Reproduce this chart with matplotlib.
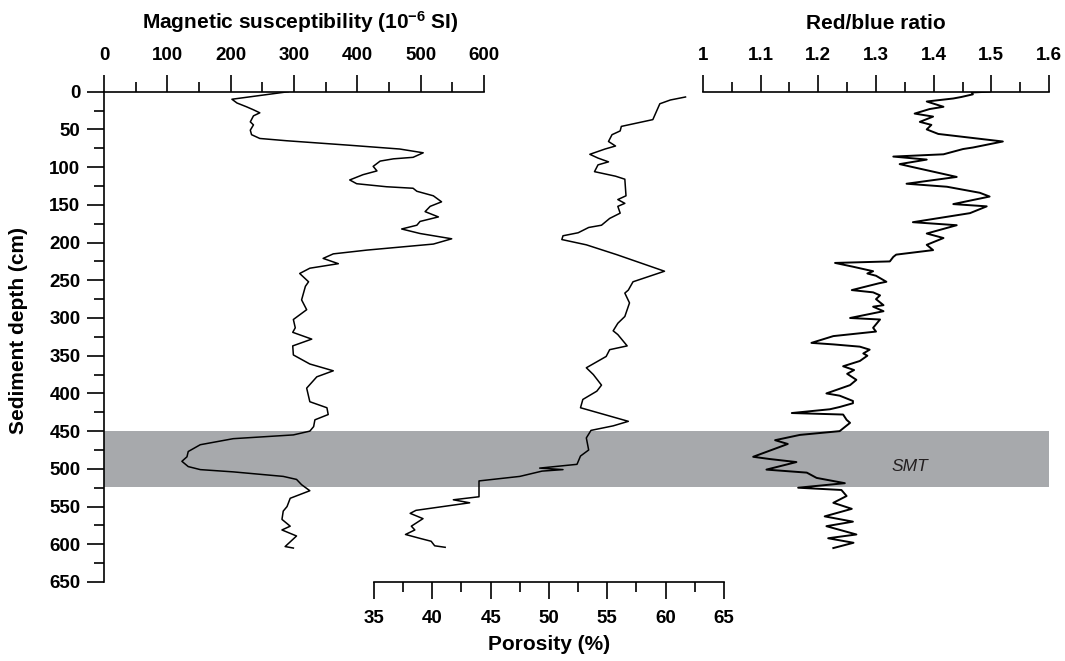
import numpy as np
import matplotlib.pyplot as plt
from matplotlib.ticker import MultipleLocator

plt.rcParams['font.family'] = ['Liberation Sans', 'DejaVu Sans']
plt.rcParams['mathtext.fontset'] = 'custom'
plt.rcParams['mathtext.rm'] = 'Liberation Sans:bold'
plt.rcParams['mathtext.default'] = 'rm'

# magnetic susceptibility (10^-6 SI) vs depth (cm)
mag_depth = [0, 10, 15, 20, 24, 28, 32, 40, 44, 51,
             57, 62, 65, 71, 76, 81, 87, 89, 92, 99,
             105, 110, 117, 122, 126, 128, 132, 138, 146, 152,
             159, 166, 172, 177, 182, 188, 195, 202, 210, 215,
             221, 228, 234, 241, 252, 258, 276, 289, 302, 313,
             319, 328, 337, 349, 361, 370, 378, 393, 411, 419,
             428, 435, 444, 450, 455, 460, 468, 477, 484, 490,
             497, 501, 504, 510, 514, 521, 529, 539, 550, 556,
             567, 576, 581, 589, 603, 605]
mag_vals = [291, 202, 210, 225, 236, 246, 236, 231, 236, 231,
            233, 246, 288, 388, 467, 504, 488, 457, 436, 425,
            431, 409, 388, 399, 446, 488, 494, 520, 533, 515,
            507, 528, 499, 494, 470, 499, 549, 520, 415, 362,
            346, 370, 325, 309, 323, 318, 312, 320, 299, 302,
            298, 328, 298, 299, 325, 362, 336, 320, 325, 352,
            354, 333, 331, 325, 299, 204, 152, 133, 131, 123,
            133, 152, 204, 283, 304, 312, 325, 294, 289, 283,
            281, 294, 281, 304, 286, 299]

# porosity (%) vs depth (cm)
por_depth = [7, 11, 16, 37, 46, 52, 57, 66, 72, 76,
             83, 88, 93, 97, 106, 112, 116, 138, 143, 148,
             152, 161, 168, 177, 180, 187, 191, 196, 203, 216,
             238, 252, 263, 267, 280, 298, 307, 317, 322, 337,
             342, 351, 366, 375, 389, 397, 408, 419, 437, 443,
             449, 459, 475, 483, 494, 499, 501, 503, 510, 516,
             537, 541, 545, 555, 559, 566, 576, 581, 587, 592,
             596, 602, 604]
por_vals = [61.7, 60.4, 59.5, 58.9, 56.2, 56.1, 55.4, 55.1, 55.7, 54.8,
            53.5, 54.2, 55.1, 54.2, 53.9, 55.7, 56.5, 56.6, 55.9, 56.5,
            55.9, 56.1, 55.2, 54.5, 53.4, 52.5, 51.2, 51.1, 53.2, 55.8,
            59.9, 57.2, 56.8, 56.5, 56.9, 56.5, 55.9, 55.5, 55.9, 56.7,
            55.2, 54.9, 53.2, 53.8, 54.5, 54.1, 52.9, 52.7, 56.8, 55.5,
            53.6, 53.2, 53.4, 52.7, 52.4, 49.2, 51.2, 49.4, 47.5, 44.0,
            44.0, 41.8, 43.2, 38.6, 38.1, 39.2, 38.2, 38.5, 37.7, 38.9,
            39.9, 40.2, 41.1]

# red/blue ratio vs depth (cm)
rb_depth = [0, 1, 3.5, 7, 9, 13, 20, 23, 29, 33,
            40, 44, 50, 56, 63, 66, 74, 76, 83, 86,
            90, 96, 100, 107, 113, 122, 126, 134, 139, 149,
            152, 161, 173, 177, 188, 194, 203, 210, 216, 219,
            225, 227, 232, 238, 241, 244, 252, 254, 263, 266,
            270, 275, 283, 285, 291, 300, 302, 313, 318, 324,
            333, 335, 338, 342, 347, 350, 357, 364, 369, 374,
            382, 389, 400, 403, 410, 413, 418, 421, 426, 428,
            435, 439, 450, 455, 462, 467, 471, 484, 487, 491,
            501, 505, 512, 519, 525, 528, 536, 545, 553, 563,
            570, 576, 587, 592, 598, 605]
rb_vals = [1.497, 1.466, 1.468, 1.448, 1.434, 1.388, 1.417, 1.393, 1.367, 1.399,
           1.376, 1.396, 1.388, 1.408, 1.486, 1.520, 1.468, 1.451, 1.417, 1.330,
           1.388, 1.341, 1.364, 1.405, 1.440, 1.353, 1.423, 1.480, 1.497, 1.434,
           1.492, 1.463, 1.364, 1.440, 1.388, 1.417, 1.388, 1.399, 1.335, 1.330,
           1.324, 1.229, 1.260, 1.295, 1.285, 1.300, 1.318, 1.305, 1.258, 1.295,
           1.307, 1.300, 1.313, 1.295, 1.313, 1.255, 1.307, 1.295, 1.300, 1.226,
           1.188, 1.226, 1.272, 1.289, 1.278, 1.285, 1.272, 1.243, 1.262, 1.250,
           1.266, 1.255, 1.214, 1.237, 1.260, 1.260, 1.237, 1.220, 1.154, 1.243,
           1.249, 1.255, 1.237, 1.168, 1.125, 1.147, 1.133, 1.087, 1.116, 1.162,
           1.110, 1.180, 1.197, 1.246, 1.165, 1.240, 1.249, 1.226, 1.258, 1.211,
           1.260, 1.214, 1.266, 1.217, 1.261, 1.226]

depth_ticks = list(range(0, 651, 50))
mag_ticks = [0, 100, 200, 300, 400, 500, 600]
por_ticks = [35, 40, 45, 50, 55, 60, 65]
rb_ticks = [1.0, 1.1, 1.2, 1.3, 1.4, 1.5, 1.6]
rb_labels = ['1', '1.1', '1.2', '1.3', '1.4', '1.5', '1.6']
smt_top, smt_bottom = 450, 524

W, H = 1065, 661
fig = plt.figure(figsize=(W / 100, H / 100), dpi=100)

Y0, Y1 = 91.7, 582


def make_ax(x0, x1):
    ax = fig.add_axes([x0 / W, 1 - Y1 / H, (x1 - x0) / W, (Y1 - Y0) / H])
    ax.set_facecolor('none')
    ax.set_ylim(650, 0)
    for s in ax.spines.values():
        s.set_visible(False)
        s.set_linewidth(1.2)
    ax.tick_params(which='both', width=1.2, labelsize=13.5, pad=8)
    ax.tick_params(which='major', length=12)
    ax.tick_params(which='minor', length=7)
    return ax


bold = dict(fontsize=15, fontweight='bold')

# background band
bg = make_ax(104, 1049)
bg.set_xlim(0, 1)
bg.axhspan(smt_top, smt_bottom, color='#a7a9ac', lw=0)
bg.set_xticks([])
bg.set_yticks([])

# magnetic susceptibility
ax1 = make_ax(104, 484)
ax1.spines['left'].set_visible(True)
ax1.spines['top'].set_visible(True)
ax1.set_xlim(0, 600)
ax1.xaxis.tick_top()
ax1.set_xticks(mag_ticks)
ax1.xaxis.set_minor_locator(MultipleLocator(50))
ax1.set_yticks(depth_ticks)
ax1.yaxis.set_minor_locator(MultipleLocator(25))
ax1.tick_params(axis='y', which='both', pad=5)
for lab in ax1.get_xticklabels() + ax1.get_yticklabels():
    lab.set_fontweight('bold')
ax1.plot(mag_vals, mag_depth, color='black', lw=1.1)

# porosity
ax2 = make_ax(374, 724)
ax2.spines['bottom'].set_visible(True)
ax2.set_xlim(35, 65)
ax2.set_xticks(por_ticks)
ax2.xaxis.set_minor_locator(MultipleLocator(2.5))
ax2.set_yticks([])
for lab in ax2.get_xticklabels():
    lab.set_fontweight('bold')
ax2.set_xlabel('Porosity (%)', labelpad=6, **bold)
ax2.plot(por_vals, por_depth, color='black', lw=1.1)

# red/blue ratio
ax3 = make_ax(703, 1049)
ax3.spines['top'].set_visible(True)
ax3.set_xlim(1.0, 1.6)
ax3.xaxis.tick_top()
ax3.set_xticks(rb_ticks)
ax3.set_xticklabels(rb_labels)
ax3.xaxis.set_minor_locator(MultipleLocator(0.05))
ax3.set_yticks([])
for lab in ax3.get_xticklabels():
    lab.set_fontweight('bold')
ax3.plot(rb_vals, rb_depth, color='black', lw=1.4)
ax3.text(1.359, 497, 'SMT', fontsize=12.5, fontstyle='italic', color='#231f20',
         ha='center', va='center')

fig.text(300 / W, 1 - 29 / H, r'Magnetic susceptibility (10$^{-6}$ SI)',
         ha='center', va='baseline', **bold)
fig.text(876 / W, 1 - 29 / H, 'Red/blue ratio', ha='center', va='baseline', **bold)
fig.text(19 / W, 1 - 330 / H, 'Sediment depth (cm)', rotation=90,
         ha='center', va='center', **bold)

fig.savefig('out.png', dpi=100)
